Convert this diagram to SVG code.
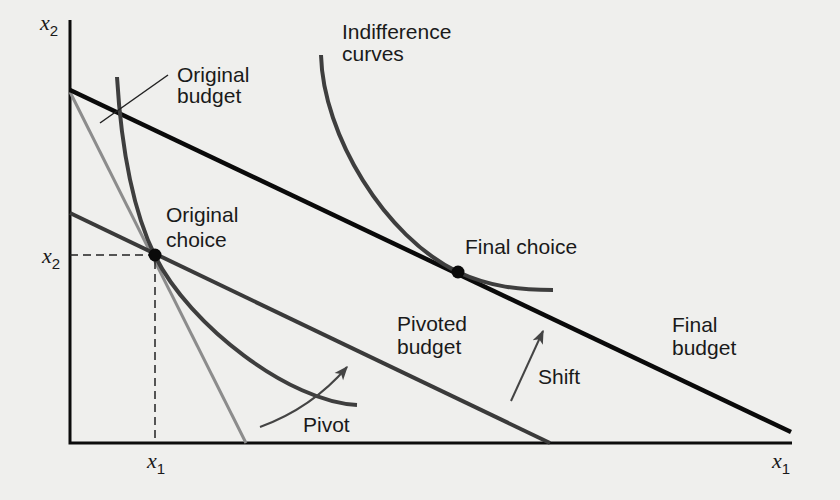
<svg xmlns="http://www.w3.org/2000/svg" width="840" height="500" viewBox="0 0 840 500">
<defs>
<style>
text{font-family:"Liberation Sans",Arial,sans-serif;font-size:21px;fill:#1a1a1a}
.var{font-family:"Liberation Serif","Times New Roman",serif;font-style:italic;font-size:22px}
.sub{font-family:"Liberation Sans",Arial,sans-serif;font-style:normal;font-size:15px}
.axis{stroke:#0c0c0c;stroke-width:3;fill:none}
.ic{stroke:#3e3e3e;stroke-width:4;fill:none;stroke-linecap:butt}
.dash{stroke:#222;stroke-width:1.5;stroke-dasharray:8 5;fill:none}
.arrow{stroke:#444;stroke-width:2;fill:none}
</style>
<marker id="ah" viewBox="0 0 10 10" refX="9" refY="5" markerWidth="7" markerHeight="7" markerUnits="userSpaceOnUse" orient="auto">
<path d="M0,0 L10,5 L0,10 L2.5,5 z" fill="#444"/>
</marker>
<marker id="ah2" viewBox="0 0 10 10" refX="9" refY="5" markerWidth="14" markerHeight="14" markerUnits="userSpaceOnUse" orient="auto">
<path d="M0,1 L10,5 L0,9 L2.5,5 z" fill="#444"/>
</marker>
</defs>
<rect width="840" height="500" fill="#efefed"/>
<g id="axes">
<path class="axis" d="M70,20 V443 H792"/>
<text x="40" y="30" class="var">x<tspan class="sub" dy="6">2</tspan></text>
<text x="772" y="468" class="var">x<tspan class="sub" dy="6">1</tspan></text>
</g>
<g id="connectors">
<line x1="70" y1="92" x2="246" y2="443" stroke="#8c8c8c" stroke-width="3"/>
<line x1="70" y1="213" x2="550" y2="443" stroke="#3a3a3a" stroke-width="4"/>
<line x1="70" y1="90" x2="791" y2="432" stroke="#0a0a0a" stroke-width="4.5"/>
<path class="ic" d="M117,77 C122,160 135,215 155,256 C190,326 290,402 357,405"/>
<path class="ic" d="M321,55 C323,135 385,237 458,272 C490,287 520,290 553,290"/>
<path class="dash" d="M70,255 H155 V443"/>
<line x1="168" y1="75" x2="100" y2="123" stroke="#222" stroke-width="1.5"/>
<path class="arrow" d="M260,427 Q312,408 347,367" marker-end="url(#ah2)"/>
<line class="arrow" x1="511" y1="401" x2="543" y2="331" marker-end="url(#ah2)"/>
</g>
<g id="original-choice">
<circle cx="155" cy="255" r="6.5" fill="#0a0a0a"/>
<text x="166" y="222">Original</text>
<text x="166" y="247">choice</text>
<text x="42" y="263" class="var">x<tspan class="sub" dy="6">2</tspan></text>
<text x="147" y="468" class="var">x<tspan class="sub" dy="6">1</tspan></text>
</g>
<g id="final-choice">
<circle cx="458" cy="272" r="6.5" fill="#0a0a0a"/>
<text x="465" y="254">Final choice</text>
</g>
<g id="original-budget-label">
<text x="177" y="82">Original</text>
<text x="177" y="103">budget</text>
</g>
<g id="indifference-label">
<text x="342" y="39">Indifference</text>
<text x="342" y="61">curves</text>
</g>
<g id="pivoted-budget-label">
<text x="397" y="331">Pivoted</text>
<text x="397" y="354">budget</text>
</g>
<g id="final-budget-label">
<text x="672" y="332">Final</text>
<text x="672" y="355">budget</text>
</g>
<g id="pivot-label">
<text x="303" y="432">Pivot</text>
</g>
<g id="shift-label">
<text x="538" y="384">Shift</text>
</g>
</svg>
